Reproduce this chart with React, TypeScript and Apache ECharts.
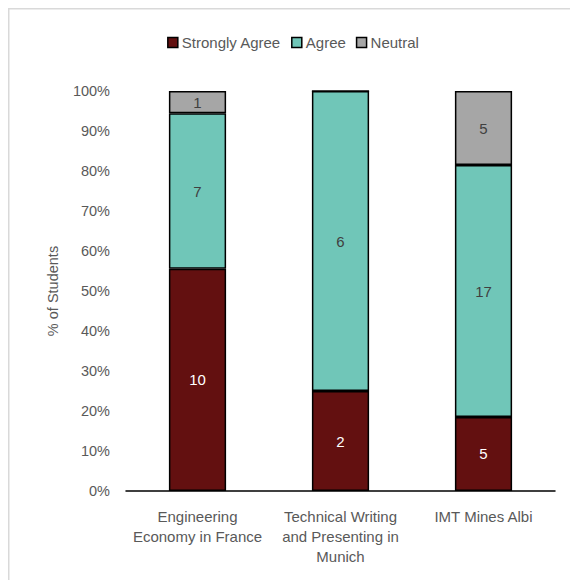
import React, { useEffect, useRef } from "react";
import * as echarts from "echarts";

const courses = [
  "Engineering\nEconomy in France",
  "Technical Writing\nand Presenting in\nMunich",
  "IMT Mines Albi",
];
const stronglyAgree = [10, 2, 5];
const agree = [7, 6, 17];
const neutral = [1, 0, 5];

const seriesDefs = [
  { name: "Strongly Agree", counts: stronglyAgree, color: "#631010", labelColor: "#ffffff" },
  { name: "Agree", counts: agree, color: "#70c6b8", labelColor: "#404040" },
  { name: "Neutral", counts: neutral, color: "#a6a6a6", labelColor: "#404040" },
];

const totals = courses.map((_, i) => stronglyAgree[i] + agree[i] + neutral[i]);

export default function App() {
  const ref = useRef<HTMLDivElement>(null);

  useEffect(() => {
    if (!ref.current) return;
    const chart = echarts.init(ref.current, undefined, { renderer: "svg" });
    const font = "'Liberation Sans', Arial, sans-serif";

    chart.setOption({
      animation: false,
      textStyle: { fontFamily: font },
      graphic: [
        {
          type: "rect",
          shape: { x: 0.75, y: 0.75, width: 600, height: 600 },
          style: { fill: "none", stroke: "#d9d9d9", lineWidth: 1.5 },
          silent: true,
        },
      ],
      legend: {
        top: 22,
        left: "center",
        itemWidth: 10,
        itemHeight: 10,
        itemGap: 10,
        icon: "rect",
        textStyle: { fontSize: 15, color: "#595959", fontFamily: font, padding: [0, 0, 0, -1] },
        data: seriesDefs.map((s) => ({
          name: s.name,
          itemStyle: { color: s.color, borderColor: "#000", borderWidth: 1.5 },
        })),
      },
      grid: { left: 118, right: 23, top: 83, bottom: 89 },
      xAxis: {
        type: "category",
        data: courses,
        axisLine: { lineStyle: { color: "#000", width: 1.5 } },
        axisTick: { show: false },
        axisLabel: {
          fontSize: 15,
          color: "#595959",
          lineHeight: 20,
          margin: 15,
          interval: 0,
          fontFamily: font,
        },
      },
      yAxis: {
        type: "value",
        min: 0,
        max: 100,
        interval: 10,
        name: "% of Students",
        nameLocation: "middle",
        nameGap: 66,
        nameTextStyle: { fontSize: 14.5, color: "#595959", fontFamily: font },
        axisLine: { show: false },
        axisTick: { show: false },
        splitLine: { show: false },
        axisLabel: {
          formatter: "{value}%",
          fontSize: 14.5,
          color: "#595959",
          margin: 16,
          fontFamily: font,
        },
      },
      series: seriesDefs.map((s) => ({
        name: s.name,
        type: "bar",
        stack: "total",
        barWidth: "40%",
        data: s.counts.map((c, i) => ({
          value: (c / totals[i]) * 100,
          count: c,
        })),
        itemStyle: { color: s.color, borderColor: "#000", borderWidth: 1.5 },
        label: {
          show: true,
          position: "inside",
          fontSize: 15,
          color: s.labelColor,
          fontFamily: font,
          formatter: (p: any) => (p.data.count ? String(p.data.count) : ""),
        },
      })),
    });

    return () => chart.dispose();
  }, []);

  return <div ref={ref} style={{ width: 570, height: 572 }} />;
}
